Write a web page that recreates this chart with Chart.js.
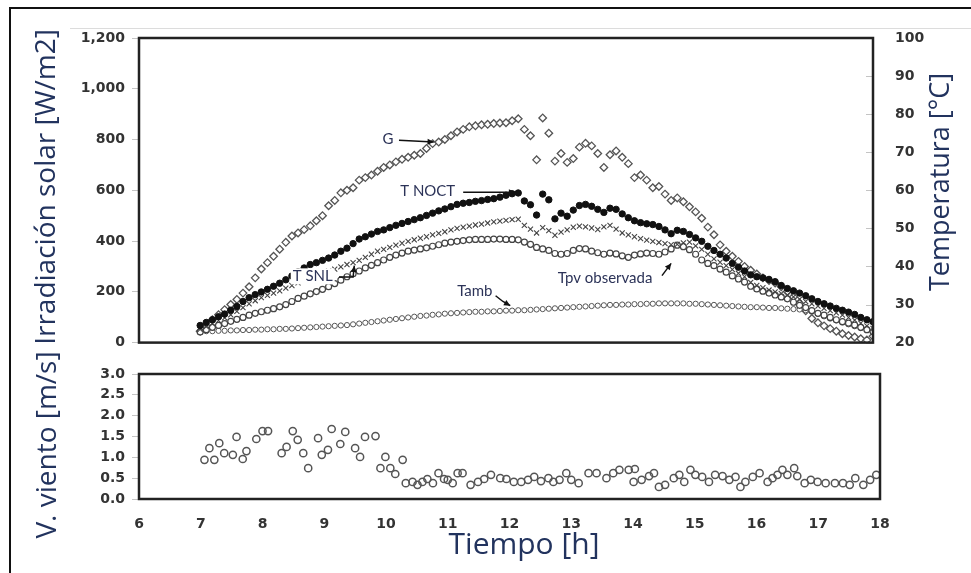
<!DOCTYPE html>
<html lang="es">
<head>
<meta charset="utf-8">
<title>Irradiación solar, temperaturas y viento</title>
<script src="https://cdn.jsdelivr.net/npm/chart.js@4.4.1/dist/chart.umd.min.js"></script>
<style>
  html, body { margin: 0; padding: 0; background: #fff; }
  #lienzo { position: relative; width: 971px; height: 573px; overflow: hidden; background: #fff; }
  #marcoExterior { position: absolute; left: 9px; top: 7px; width: 980px; height: 600px; border-left: 2px solid #111; border-top: 2px solid #111; }
  #lineaGris { position: absolute; left: 70px; right: 0; top: 28px; border-top: 1px solid #dcdcdc; }
  #graficoSuperior { position: absolute; left: 0; top: 0; }
  #graficoInferior { position: absolute; left: 0; top: 345px; }
</style>
</head>
<body>
<div id="lienzo">
  <div id="marcoExterior"></div>
  <div id="lineaGris"></div>
  <canvas id="graficoSuperior" width="971" height="365"></canvas>
  <canvas id="graficoInferior" width="971" height="228"></canvas>
</div>
<script>
// Datos (hora solar, cada 0.1 h)
const horas = [
  7.0, 7.1, 7.2, 7.3, 7.4, 7.5, 7.6, 7.7, 7.8, 7.9,
  8.0, 8.1, 8.2, 8.3, 8.4, 8.5, 8.6, 8.7, 8.8, 8.9,
  9.0, 9.1, 9.2, 9.3, 9.4, 9.5, 9.6, 9.7, 9.8, 9.9,
  10.0, 10.1, 10.2, 10.3, 10.4, 10.5, 10.6, 10.7, 10.8, 10.9,
  11.0, 11.1, 11.2, 11.3, 11.4, 11.5, 11.6, 11.7, 11.8, 11.9,
  12.0, 12.1, 12.2, 12.3, 12.4, 12.5, 12.6, 12.7, 12.8, 12.9,
  13.0, 13.1, 13.2, 13.3, 13.4, 13.5, 13.6, 13.7, 13.8, 13.9,
  14.0, 14.1, 14.2, 14.3, 14.4, 14.5, 14.6, 14.7, 14.8, 14.9,
  15.0, 15.1, 15.2, 15.3, 15.4, 15.5, 15.6, 15.7, 15.8, 15.9,
  16.0, 16.1, 16.2, 16.3, 16.4, 16.5, 16.6, 16.7, 16.8, 16.9,
  17.0, 17.1, 17.2, 17.3, 17.4, 17.5, 17.6, 17.7, 17.8, 17.9,
  18.0
];

// Irradiación solar G [W/m2]
const irradiacionG = [
  45, 65, 90, 110, 130, 150, 170, 195, 220, 255,
  290, 315, 340, 368, 395, 420, 432, 445, 460, 480,
  500, 539, 560, 590, 600, 610, 640, 650, 660, 675,
  690, 700, 712, 722, 730, 738, 745, 765, 784, 790,
  800, 815, 830, 840, 850, 854, 858, 860, 863, 865,
  866, 874, 882, 840, 815, 720, 885, 825, 715, 745,
  710, 725, 770, 785, 775, 745, 690, 740, 755, 730,
  705, 650, 660, 640, 610, 615, 585, 560, 570, 555,
  535, 515, 490, 455, 425, 385, 360, 340, 320, 300,
  285, 270, 255, 245, 235, 220, 200, 180, 155, 125,
  95, 78, 66, 55, 45, 35, 28, 22, 15, 10,
  25
];

// Temperaturas [°C]
const tempNOCT = [
  24.5, 25.3, 26, 26.8, 27.5, 28.5, 29.5, 30.8, 31.8, 32.6,
  33.3, 34, 34.8, 35.6, 36.5, 37.5, 38.6, 39.6, 40.5, 41,
  41.6, 42.2, 43, 44, 44.8, 46, 47.2, 47.8, 48.5, 49.2,
  49.6, 50.2, 50.8, 51.3, 51.8, 52.3, 52.8, 53.4, 54, 54.6,
  55.1, 55.7, 56.3, 56.6, 56.8, 57.1, 57.3, 57.6, 57.8, 58.2,
  58.7, 59.1, 59.3, 57.2, 56.2, 53.5, 59, 57.5, 52.5, 54,
  53.2, 54.8, 56, 56.3, 55.8, 55, 54.2, 55.3, 55, 53.8,
  52.8, 52, 51.5, 51.2, 51, 50.5, 49.6, 48.6, 49.5, 49.2,
  48.4, 47.5, 46.6, 45.3, 44.2, 43.2, 42.2, 40.8, 39.8, 38.8,
  37.8, 37.3, 37, 36.6, 36, 35, 34.2, 33.6, 33, 32.3,
  31.5, 30.8, 30.2, 29.6, 29, 28.5, 28, 27.4, 26.6, 26,
  25.5
];

const tempSNL = [
  23.5, 24.2, 25, 25.8, 26.5, 27.3, 28.2, 29.2, 30.2, 31,
  31.8, 32.4, 33, 33.6, 34.3, 35, 35.7, 36.4, 37, 37.6,
  38.2, 38.8, 39.3, 39.9, 40.5, 41, 41.6, 42.4, 43.2, 44,
  44.5, 45, 45.6, 46.1, 46.6, 47, 47.4, 47.8, 48.3, 48.7,
  49.1, 49.6, 50, 50.3, 50.6, 50.9, 51.1, 51.4, 51.7, 51.9,
  52.1, 52.3, 52.4, 50.8, 49.8, 48.8, 50.2, 49.4, 48.2, 49,
  49.6, 50.3, 50.6, 50.4, 50.1, 49.7, 50.4, 50.8, 49.8, 48.8,
  48.3, 47.8, 47.3, 46.9, 46.6, 46.3, 46, 45.7, 45.8, 46.2,
  46.4, 45.4, 44.5, 43.2, 42, 41.1, 40.2, 39.2, 38.2, 37.3,
  35.8, 35, 34.4, 33.8, 33.3, 32.9, 32.5, 32, 31.4, 30.8,
  30.2, 29.6, 29, 28.4, 27.8, 27.2, 26.6, 25.9, 25.1, 24.4,
  23.7
];

const tempPVobservada = [
  22.8, 23.4, 24, 24.5, 25, 25.6, 26.1, 26.6, 27.2, 27.7,
  28.1, 28.5, 28.9, 29.4, 30, 30.8, 31.6, 32.2, 32.8, 33.4,
  34, 34.7, 35.5, 36.4, 37.3, 38.1, 38.8, 39.6, 40.3, 41,
  41.7, 42.4, 43, 43.5, 44, 44.3, 44.6, 44.9, 45.3, 45.7,
  46.1, 46.4, 46.6, 46.8, 47, 47.1, 47.1, 47.1, 47.2, 47.2,
  47.1, 47.1, 47, 46.4, 45.8, 45, 44.6, 44.2, 43.4, 43.2,
  43.4, 44.2, 44.7, 44.6, 44, 43.6, 43.2, 43.5, 43.3, 42.8,
  42.4, 43, 43.3, 43.5, 43.4, 43.2, 43.8, 44.6, 45.6, 45.2,
  44.4, 43.2, 41.7, 40.8, 40.2, 39.3, 38.5, 37.5, 36.7, 35.9,
  34.8, 34.1, 33.5, 33, 32.5, 32, 31.5, 30.6, 29.8, 29.2,
  28.4, 27.7, 27.2, 26.6, 26, 25.5, 25.1, 24.6, 24, 23.4,
  22.9
];

const tempAmbiente = [
  22.9, 23, 23, 23.1, 23.1, 23.2, 23.2, 23.3, 23.3, 23.4,
  23.4, 23.5, 23.5, 23.6, 23.6, 23.7, 23.8, 23.9, 24, 24.1,
  24.2, 24.3, 24.4, 24.5, 24.6, 24.8, 25, 25.2, 25.4, 25.6,
  25.8, 26, 26.2, 26.4, 26.6, 26.8, 27, 27.1, 27.3, 27.4,
  27.6, 27.7, 27.8, 27.9, 28, 28.1, 28.1, 28.2, 28.2, 28.3,
  28.4, 28.4, 28.5, 28.5, 28.6, 28.7, 28.8, 28.9, 29, 29.1,
  29.2, 29.3, 29.4, 29.5, 29.6, 29.7, 29.8, 29.9, 29.9, 30,
  30, 30.1, 30.1, 30.2, 30.2, 30.3, 30.3, 30.3, 30.3, 30.3,
  30.2, 30.2, 30.1, 30, 29.9, 29.8, 29.7, 29.6, 29.5, 29.4,
  29.3, 29.3, 29.2, 29.1, 29.1, 29, 28.9, 28.8, 28.7, 28.5,
  28.1, 27.5, 26.9, 26.3, 25.8, 25.3, 24.8, 24.3, 23.8, 23.3,
  22.9
];

// Velocidad del viento [m/s]
const horasViento = [
  7.06, 7.14, 7.22, 7.30, 7.38, 7.52, 7.58, 7.68, 7.74, 7.90,
  8.00, 8.09, 8.31, 8.39, 8.49, 8.57, 8.66, 8.74, 8.90, 8.96,
  9.06, 9.12, 9.26, 9.34, 9.50, 9.58, 9.66, 9.83, 9.91, 9.99,
  10.07, 10.15, 10.27, 10.32, 10.43, 10.51, 10.59, 10.67, 10.76, 10.85,
  10.94, 11.00, 11.08, 11.16, 11.24, 11.37, 11.49, 11.59, 11.70, 11.85,
  11.95, 12.07, 12.19, 12.30, 12.40, 12.51, 12.63, 12.71, 12.81, 12.92,
  13.00, 13.12, 13.28, 13.41, 13.57, 13.68, 13.78, 13.93, 14.01, 14.03,
  14.14, 14.26, 14.34, 14.42, 14.52, 14.66, 14.75, 14.83, 14.93, 15.01,
  15.12, 15.23, 15.33, 15.45, 15.56, 15.66, 15.74, 15.82, 15.94, 16.05,
  16.18, 16.26, 16.34, 16.42, 16.50, 16.61, 16.66, 16.78, 16.88, 16.99,
  17.12, 17.27, 17.40, 17.51, 17.60, 17.73, 17.84, 17.94
];
const velViento = [
  0.94, 1.22, 0.94, 1.34, 1.10, 1.06, 1.49, 0.96, 1.15, 1.44,
  1.63, 1.63, 1.10, 1.25, 1.63, 1.42, 1.10, 0.74, 1.46, 1.06,
  1.18, 1.68, 1.32, 1.61, 1.22, 1.01, 1.49, 1.51, 0.74, 1.01,
  0.74, 0.60, 0.94, 0.38, 0.41, 0.34, 0.41, 0.48, 0.38, 0.62,
  0.48, 0.46, 0.38, 0.62, 0.62, 0.34, 0.41, 0.48, 0.58, 0.50,
  0.48, 0.41, 0.41, 0.46, 0.53, 0.43, 0.50, 0.41, 0.46, 0.62,
  0.46, 0.38, 0.62, 0.62, 0.50, 0.62, 0.70, 0.70, 0.41, 0.72,
  0.46, 0.55, 0.62, 0.29, 0.34, 0.50, 0.58, 0.41, 0.70, 0.58,
  0.53, 0.41, 0.58, 0.55, 0.46, 0.53, 0.29, 0.41, 0.53, 0.62,
  0.41, 0.50, 0.58, 0.70, 0.58, 0.74, 0.55, 0.38, 0.46, 0.41,
  0.38, 0.38, 0.38, 0.34, 0.50, 0.34, 0.46, 0.58
];

// Estilos comunes
const fuenteTicks = { family: 'DejaVu Sans', weight: 'bold', size: 14 };
const colorTicks = '#333';
const colorTitulos = '#22335e';
const fuenteTitulos = '"Open Sans", sans-serif';

function puntos(serie) {
  return horas.map((h, i) => ({ x: h, y: serie[i] }));
}

// Marco del área de datos y marcas interiores del eje derecho
const marco = {
  id: 'marco',
  afterDraw(chart, args, opts) {
    const { ctx, chartArea } = chart;
    ctx.save();
    if (opts.ejeInterior) {
      const eje = chart.scales[opts.ejeInterior];
      ctx.strokeStyle = '#c4c4c4';
      ctx.lineWidth = 1;
      eje.ticks.forEach(t => {
        const y = Math.round(eje.getPixelForValue(t.value)) + 0.5;
        ctx.beginPath();
        ctx.moveTo(chartArea.right - 7, y);
        ctx.lineTo(chartArea.right, y);
        ctx.stroke();
      });
    }
    ctx.strokeStyle = '#222';
    ctx.lineWidth = 2.5;
    ctx.strokeRect(chartArea.left, chartArea.top, chartArea.right - chartArea.left, chartArea.bottom - chartArea.top);
    ctx.restore();
  }
};

// Títulos de ejes (texto rotado)
const titulosEjes = {
  id: 'titulosEjes',
  afterDraw(chart, args, opts) {
    const ctx = chart.ctx;
    (opts.items || []).forEach(t => {
      ctx.save();
      ctx.translate(t.x, t.y);
      ctx.rotate(t.giro || 0);
      ctx.font = t.size + 'px ' + fuenteTitulos;
      ctx.fillStyle = colorTitulos;
      ctx.textAlign = 'center';
      ctx.textBaseline = 'middle';
      ctx.fillText(t.text, 0, 0);
      ctx.restore();
    });
  }
};

// Etiquetas con flecha sobre las series
const etiquetas = {
  id: 'etiquetas',
  afterDatasetsDraw(chart, args, opts) {
    const { ctx, scales } = chart;
    const ex = scales.x;
    ctx.save();
    ctx.font = opts.font;
    ctx.textAlign = 'center';
    ctx.textBaseline = 'middle';
    (opts.items || []).forEach(it => {
      const ey = scales[it.eje];
      const tx = ex.getPixelForValue(it.pos[0]);
      const ty = ey.getPixelForValue(it.pos[1]);
      const w = ctx.measureText(it.texto).width;
      ctx.fillStyle = '#fff';
      ctx.fillRect(tx - w / 2 - 2, ty - 8, w + 4, 16);
      ctx.fillStyle = opts.color;
      ctx.fillText(it.texto, tx, ty);

      const pts = it.flecha.map(p => [ex.getPixelForValue(p[0]), ey.getPixelForValue(p[1])]);
      ctx.strokeStyle = '#111';
      ctx.lineWidth = 1.5;
      ctx.beginPath();
      pts.forEach((p, i) => i ? ctx.lineTo(p[0], p[1]) : ctx.moveTo(p[0], p[1]));
      ctx.stroke();
      const a = pts[pts.length - 2], b = pts[pts.length - 1];
      const ang = Math.atan2(b[1] - a[1], b[0] - a[0]);
      ctx.fillStyle = '#111';
      ctx.beginPath();
      ctx.moveTo(b[0], b[1]);
      ctx.lineTo(b[0] - 7 * Math.cos(ang - 0.45), b[1] - 7 * Math.sin(ang - 0.45));
      ctx.lineTo(b[0] - 7 * Math.cos(ang + 0.45), b[1] - 7 * Math.sin(ang + 0.45));
      ctx.closePath();
      ctx.fill();
    });
    ctx.restore();
  }
};

// Gráfico superior: irradiación y temperaturas
new Chart(document.getElementById('graficoSuperior'), {
  type: 'scatter',
  data: {
    datasets: [
      { label: 'T NOCT', data: puntos(tempNOCT), yAxisID: 'yT', pointStyle: 'circle', pointRadius: 3.2, backgroundColor: '#111', borderColor: '#111', borderWidth: 1 },
      { label: 'T SNL', data: puntos(tempSNL), yAxisID: 'yT', pointStyle: 'crossRot', pointRadius: 3.6, borderColor: '#444', borderWidth: 1.1 },
      { label: 'Tpv observada', data: puntos(tempPVobservada), yAxisID: 'yT', pointStyle: 'circle', pointRadius: 3, backgroundColor: '#fff', borderColor: '#444', borderWidth: 1.2 },
      { label: 'Tamb', data: puntos(tempAmbiente), yAxisID: 'yT', pointStyle: 'circle', pointRadius: 2.6, backgroundColor: '#fff', borderColor: '#555', borderWidth: 1 },
      { label: 'G', data: puntos(irradiacionG), yAxisID: 'yG', pointStyle: 'rectRot', pointRadius: 3.8, backgroundColor: '#fff', borderColor: '#555', borderWidth: 1.3 }
    ]
  },
  options: {
    responsive: false,
    animation: false,
    layout: { padding: { top: 38, bottom: 0, left: 0, right: 0 } },
    scales: {
      x: {
        type: 'linear', min: 6, max: 18,
        ticks: { display: false },
        grid: { display: false },
        border: { display: false },
        afterFit(s) { s.height = 4; }
      },
      yG: {
        position: 'left', min: 0, max: 1200,
        ticks: { stepSize: 200, font: fuenteTicks, color: colorTicks, padding: 7, callback: v => v.toLocaleString('en-US') },
        grid: { display: true, drawOnChartArea: false, drawTicks: true, tickLength: 7, color: '#c4c4c4' },
        border: { display: false },
        afterFit(s) { s.width = 139; }
      },
      yT: {
        position: 'right', min: 20, max: 100,
        ticks: { stepSize: 10, font: fuenteTicks, color: colorTicks, padding: 14 },
        grid: { display: false },
        border: { display: false },
        afterFit(s) { s.width = 98; }
      }
    },
    plugins: {
      legend: { display: false },
      tooltip: { enabled: false },
      marco: { ejeInterior: 'yT' },
      titulosEjes: {
        items: [
          { text: 'Irradiación solar [W/m2]', x: 47, y: 187, giro: -Math.PI / 2, size: 28 },
          { text: 'Temperatura [°C]', x: 941, y: 182, giro: -Math.PI / 2, size: 27 }
        ]
      },
      etiquetas: {
        font: '15px Lato, sans-serif',
        color: '#2c3358',
        items: [
          { texto: 'G', eje: 'yG', pos: [10.07, 800], flecha: [[10.25, 797], [10.82, 790]] },
          { texto: 'T NOCT', eje: 'yT', pos: [10.72, 59.7], flecha: [[11.3, 59.5], [12.15, 59.5]] },
          { texto: 'T SNL', eje: 'yT', pos: [8.84, 37.4], flecha: [[9.27, 37.2], [9.5, 37.2], [9.52, 40.2]] },
          { texto: 'Tpv observada', eje: 'yT', pos: [13.62, 36.8], flecha: [[14.55, 37.6], [14.7, 40.8]] },
          { texto: 'Tamb', eje: 'yT', pos: [11.49, 33.4], flecha: [[11.83, 32.3], [11.95, 30.8], [12.07, 29.7]] }
        ]
      }
    }
  },
  plugins: [marco, titulosEjes, etiquetas]
});

// Gráfico inferior: velocidad del viento
new Chart(document.getElementById('graficoInferior'), {
  type: 'scatter',
  data: {
    datasets: [{
      label: 'V. viento',
      data: horasViento.map((h, i) => ({ x: h, y: velViento[i] })),
      pointStyle: 'circle', pointRadius: 3.6, backgroundColor: 'rgba(255,255,255,0)', borderColor: '#555', borderWidth: 1.5
    }]
  },
  options: {
    responsive: false,
    animation: false,
    layout: { padding: { top: 29, bottom: 34, left: 0, right: 91 } },
    scales: {
      x: {
        type: 'linear', min: 6, max: 18,
        ticks: { stepSize: 1, font: fuenteTicks, color: colorTicks, padding: 9 },
        grid: { display: false },
        border: { display: false },
        afterFit(s) { s.height = 40; }
      },
      y: {
        min: 0, max: 3,
        ticks: { stepSize: 0.5, font: fuenteTicks, color: colorTicks, padding: 7, callback: v => v.toFixed(1) },
        grid: { display: true, drawOnChartArea: false, drawTicks: true, tickLength: 7, color: '#c4c4c4' },
        border: { display: false },
        afterFit(s) { s.width = 139; }
      }
    },
    plugins: {
      legend: { display: false },
      tooltip: { enabled: false },
      marco: {},
      titulosEjes: {
        items: [
          { text: 'V. viento [m/s]', x: 48, y: 100, giro: -Math.PI / 2, size: 28 },
          { text: 'Tiempo [h]', x: 524, y: 200, giro: 0, size: 30 }
        ]
      }
    }
  },
  plugins: [marco, titulosEjes]
});
</script>
</body>
</html>
